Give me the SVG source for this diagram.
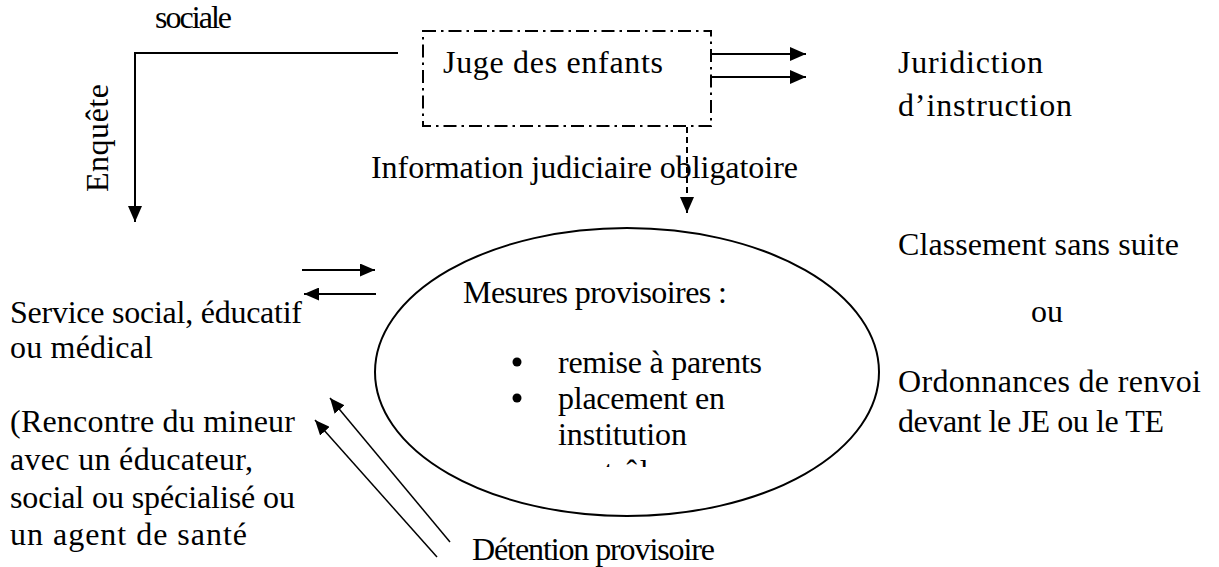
<svg xmlns="http://www.w3.org/2000/svg" width="1219" height="567" viewBox="0 0 1219 567">
<style>
  .t { font-family: "Liberation Serif", "Times New Roman", serif; font-size: 32px; fill: #000; }
  .ln { fill: none; stroke: #000; stroke-width: 2; }
  .thin { fill: none; stroke: #000; stroke-width: 1.5; }
</style>
<defs>
  <marker id="ah" markerUnits="userSpaceOnUse" markerWidth="16" markerHeight="14" refX="16" refY="7" orient="auto">
    <path d="M0,0 L16,7 L0,14 Z" fill="#000"/>
  </marker>
  <marker id="ahs" markerUnits="userSpaceOnUse" markerWidth="15" markerHeight="13" refX="15" refY="6.5" orient="auto">
    <path d="M0,0 L15,6.5 L0,13 Z" fill="#000"/>
  </marker>
  <clipPath id="clipC"><rect x="0" y="0" width="1219" height="467"/></clipPath>
</defs>
<rect width="1219" height="567" fill="#fff"/>

<g id="connectors">
  <path class="ln" d="M398,53 H135 V222" marker-end="url(#ah)"/>
  <path class="ln" d="M711,54 H806" marker-end="url(#ah)"/>
  <path class="ln" d="M711,77 H806" marker-end="url(#ah)"/>
  <path class="ln" d="M687,127 V213" stroke-dasharray="6 4" marker-end="url(#ah)"/>
  <path class="ln" d="M302,270 H375" marker-end="url(#ahs)"/>
  <path class="ln" d="M376,294 H304" marker-end="url(#ahs)"/>
  <path class="thin" d="M437,557 L315,420" marker-end="url(#ahs)"/>
  <path class="thin" d="M450,542 L330,398" marker-end="url(#ahs)"/>
</g>

<g id="label-sociale"><text class="t" x="155" y="28" font-size="27" textLength="77" lengthAdjust="spacing">sociale</text></g>
<g id="label-enquete"><text class="t" transform="translate(108,192) rotate(-90)" textLength="108" lengthAdjust="spacing">Enquête</text></g>

<g id="node-juge">
  <rect x="423" y="31" width="288" height="95" fill="none" stroke="#000" stroke-width="2" stroke-dasharray="13 5 2.5 5"/>
  <text class="t" x="443" y="73" font-size="33" textLength="220" lengthAdjust="spacing">Juge des enfants</text>
</g>

<g id="label-information"><text class="t" x="371" y="178" textLength="427" lengthAdjust="spacing">Information judiciaire obligatoire</text></g>

<g id="node-juridiction">
  <text class="t" x="898" y="73" textLength="145" lengthAdjust="spacing">Juridiction</text>
  <text class="t" x="898" y="116" textLength="174" lengthAdjust="spacing">d’instruction</text>
</g>

<g id="node-classement">
  <text class="t" x="898" y="255" textLength="281" lengthAdjust="spacing">Classement sans suite</text>
  <text class="t" x="1031" y="322" textLength="32" lengthAdjust="spacing">ou</text>
  <text class="t" x="898" y="392" textLength="303" lengthAdjust="spacing">Ordonnances de renvoi</text>
  <text class="t" x="898" y="432" textLength="266" lengthAdjust="spacing">devant le JE ou le TE</text>
</g>

<g id="node-service">
  <text class="t" x="10" y="323" textLength="292" lengthAdjust="spacing">Service social, éducatif</text>
  <text class="t" x="10" y="358" textLength="143" lengthAdjust="spacing">ou médical</text>
  <text class="t" x="10" y="432" textLength="285" lengthAdjust="spacing">(Rencontre du mineur</text>
  <text class="t" x="10" y="470" textLength="243" lengthAdjust="spacing">avec un éducateur,</text>
  <text class="t" x="10" y="508" textLength="285" lengthAdjust="spacing">social ou spécialisé ou</text>
  <text class="t" x="10" y="545" textLength="237" lengthAdjust="spacing">un agent de santé</text>
</g>

<g id="node-mesures">
  <ellipse cx="627" cy="372" rx="252" ry="144" fill="none" stroke="#000" stroke-width="2"/>
  <text class="t" x="463" y="303" textLength="264" lengthAdjust="spacing">Mesures provisoires :</text>
  <circle cx="517" cy="362" r="4.5" fill="#000"/>
  <circle cx="517" cy="398" r="4.5" fill="#000"/>
  <text class="t" x="558" y="373" textLength="204" lengthAdjust="spacing">remise à parents</text>
  <text class="t" x="558" y="409" textLength="167" lengthAdjust="spacing">placement en</text>
  <text class="t" x="558" y="445" textLength="129" lengthAdjust="spacing">institution</text>
  <text class="t" x="558" y="482" clip-path="url(#clipC)">contrôle</text>
</g>

<g id="label-detention"><text class="t" x="472" y="560" font-size="29" textLength="243" lengthAdjust="spacing">Détention provisoire</text></g>
</svg>
